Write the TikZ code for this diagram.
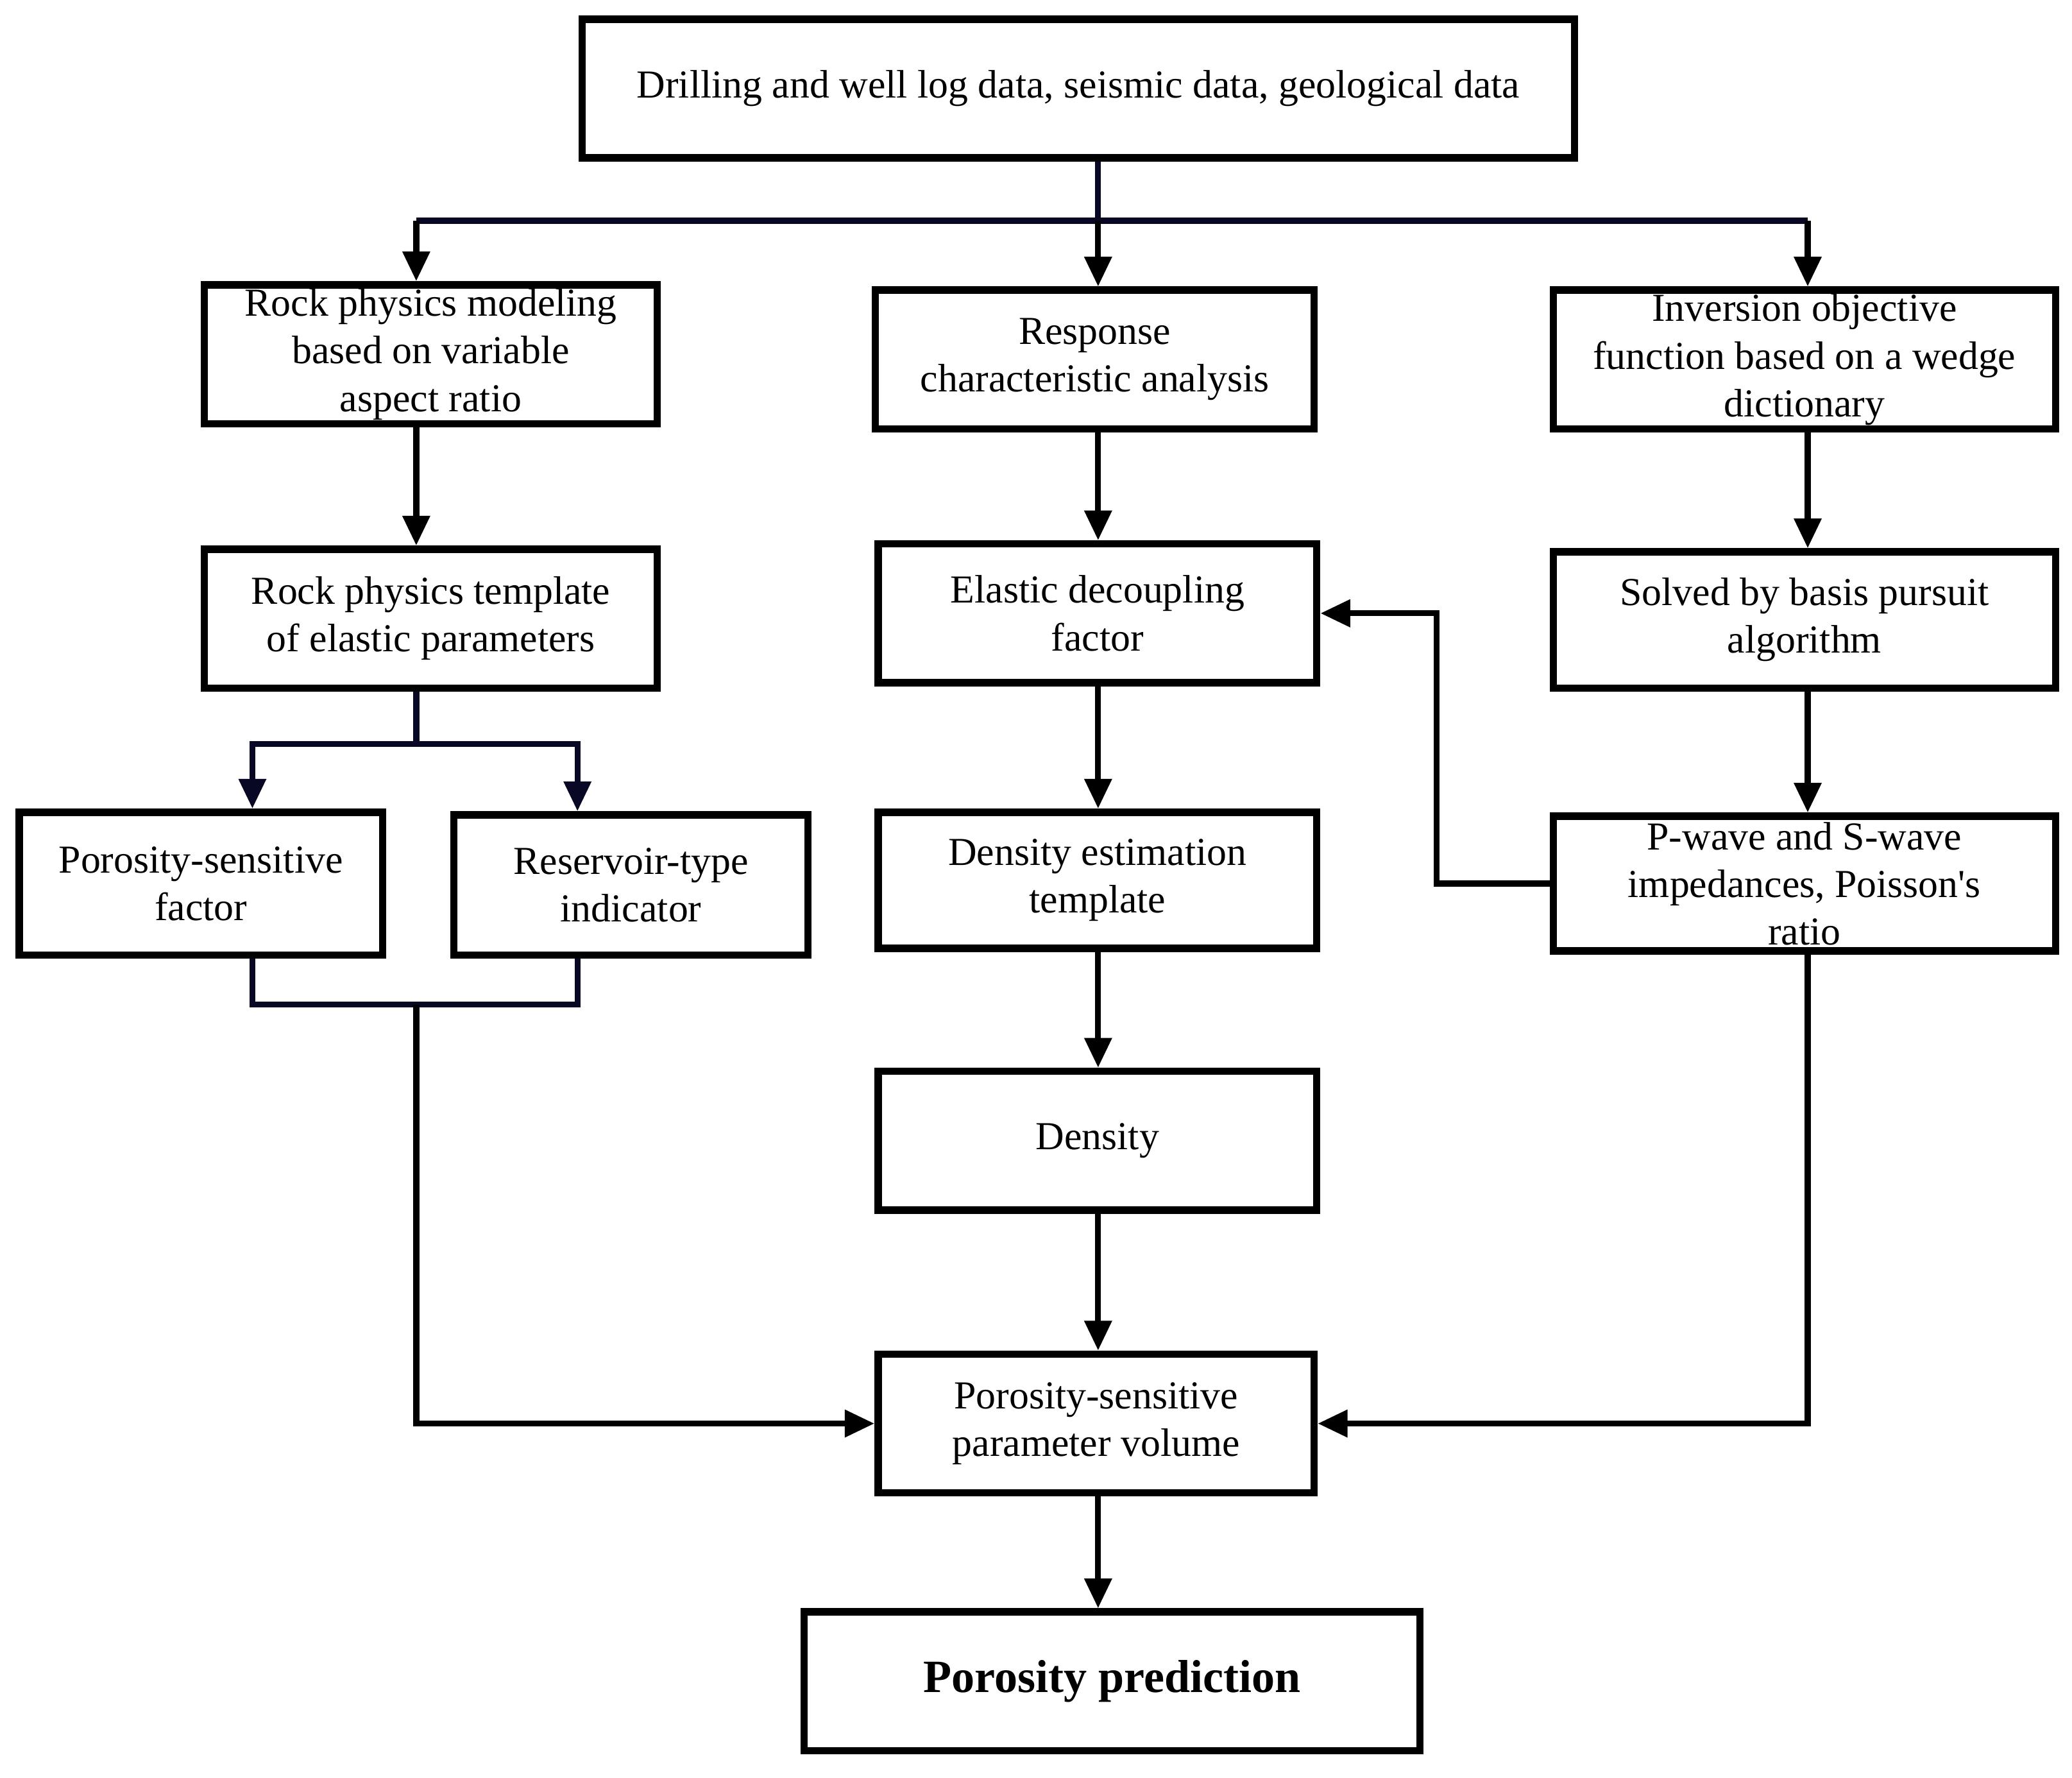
\documentclass[tikz,border=0pt]{standalone}
\usepackage{fontspec}
\setmainfont{Liberation Serif}
\usetikzlibrary{arrows.meta}
\definecolor{navy}{RGB}{8,8,36}
\def\u{0.4pt}
\begin{document}
\begin{tikzpicture}[>={Triangle[length=9pt,width=8pt]}, x=0.4pt, y=-0.4pt,
	font=\fontsize{12}{14.4}\selectfont,
	box/.style={draw, line width=2.2pt, align=center, inner sep=0pt, minimum height=105*\u},
	wire/.style={line width=1.8pt},
	arr/.style={wire, ->}]
	\useasboundingbox (0,0) rectangle (1568,1345);
	\def\xL{315} \def\xM{831} \def\xR{1368} \def\xP{191} \def\xQ{437} \def\xF{1087}
	\coordinate (cL) at (\xL,0); \coordinate (cM) at (\xM,0); \coordinate (cR) at (\xR,0);
	\coordinate (cP) at (\xP,0); \coordinate (cQ) at (\xQ,0); \coordinate (cF) at (\xF,0);
	\coordinate (bus) at (0,167); \coordinate (split) at (0,563); \coordinate (merge) at (0,760);
	% boxes
	\node[box, minimum width=751*\u] (data) at (816,67) {Drilling and well log data, seismic data, geological data};
	\node[box, minimum width=343*\u] (rpm) at (326,268) {Rock physics modeling\\based on variable\\aspect ratio};
	\node[box, minimum width=332*\u] (rca) at (828.5,272) {Response\\characteristic analysis};
	\node[box, minimum width=380*\u] (iof) at (1365.5,272) {Inversion objective\\function based on a wedge\\dictionary};
	\node[box, minimum width=343*\u] (rpt) at (326,468) {Rock physics template\\of elastic parameters};
	\node[box, minimum width=332*\u] (edf) at (830.5,464) {Elastic decoupling\\factor};
	\node[box, minimum width=380*\u, minimum height=103*\u] (sbp) at (1365.5,469) {Solved by basis pursuit\\algorithm};
	\node[box, minimum width=275*\u, minimum height=108*\u] (psf) at (152,668.5) {Porosity-sensitive\\factor};
	\node[box, minimum width=268*\u, minimum height=106*\u] (rti) at (477.5,669.5) {Reservoir-type\\indicator};
	\node[box, minimum width=332*\u, minimum height=103*\u] (det) at (830.5,666) {Density estimation\\template};
	\node[box, minimum width=380*\u, minimum height=102*\u] (pws) at (1365.5,668.5) {P-wave and S-wave\\impedances, Poisson\textquotesingle s\\ratio};
	\node[box, minimum width=332*\u] (den) at (830.5,863) {Density};
	\node[box, minimum width=330*\u] (psv) at (829.5,1077) {Porosity-sensitive\\parameter volume};
	\node[box, minimum width=466*\u, font=\fontsize{14}{16.8}\selectfont\bfseries] (pp) at (841.5,1272) {Porosity prediction};
	% top bus
	\draw[wire, navy] (data.south -| cM) -- (cM |- bus);
	\draw[wire, navy] (cL |- bus) -- (cR |- bus);
	\draw[arr] (cL |- bus) -- (rpm.north -| cL);
	\draw[arr] (cM |- bus) -- (rca.north -| cM);
	\draw[arr] (cR |- bus) -- (iof.north -| cR);
	\draw[arr] (rpm.south -| cL) -- (rpt.north -| cL);
	\draw[arr] (rca.south -| cM) -- (edf.north -| cM);
	\draw[arr] (iof.south -| cR) -- (sbp.north -| cR);
	% left split and merge
	\draw[wire, navy] (rpt.south -| cL) -- (cL |- split);
	\draw[arr, navy] (cL |- split) -| (psf.north -| cP);
	\draw[arr, navy] (cL |- split) -| (rti.north -| cQ);
	\draw[wire, navy] (psf.south -| cP) |- (cQ |- merge) -- (rti.south -| cQ);
	\draw[arr] (cL |- merge) |- (psv.west);
	% middle column
	\draw[arr] (edf.south -| cM) -- (det.north -| cM);
	\draw[arr] (det.south -| cM) -- (den.north -| cM);
	\draw[arr] (den.south -| cM) -- (psv.north -| cM);
	\draw[arr] (psv.south -| cM) -- (pp.north -| cM);
	% right column
	\draw[arr] (sbp.south -| cR) -- (pws.north -| cR);
	\draw[arr] (pws.south -| cR) |- (psv.east);
	\draw[arr] (pws.west) -| (cF |- edf.east) -- (edf.east);
\end{tikzpicture}
\end{document}
